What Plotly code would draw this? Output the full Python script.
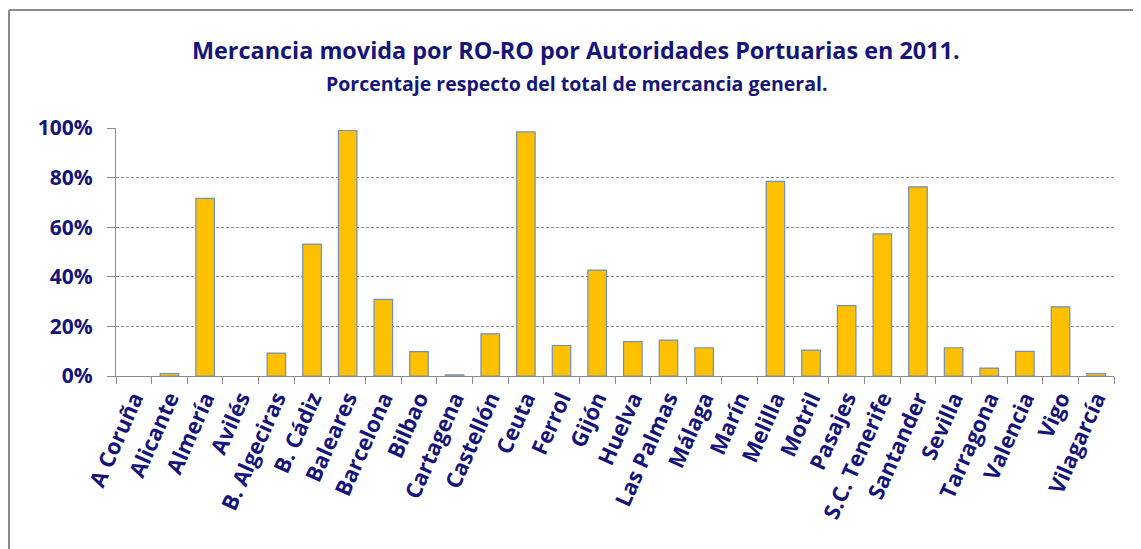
import plotly.graph_objects as go

categories = ["A Coruña", "Alicante", "Almería", "Avilés", "B. Algeciras", "B. Cádiz",
              "Baleares", "Barcelona", "Bilbao", "Cartagena", "Castellón", "Ceuta",
              "Ferrol", "Gijón", "Huelva", "Las Palmas", "Málaga", "Marín", "Melilla",
              "Motril", "Pasajes", "S.C. Tenerife", "Santander", "Sevilla", "Tarragona",
              "Valencia", "Vigo", "Vilagarcía"]
values = [0.0, 1.0, 71.6, 0.0, 9.2, 53.2, 99.0, 30.9, 9.8, 0.5, 17.0, 98.4,
          12.3, 42.7, 13.9, 14.5, 11.4, 0.0, 78.5, 10.4, 28.4, 57.3, 76.3,
          11.4, 3.2, 9.9, 27.9, 1.0]
y_ticks = [0, 20, 40, 60, 80, 100]
y_labels = ["0%", "20%", "40%", "60%", "80%", "100%"]

title = "Mercancia movida por RO-RO por Autoridades Portuarias en 2011."
subtitle = "Porcentaje respecto del total de mercancia general."

navy = "#14147a"
font_family = "'Open Sans', Lato, sans-serif"

# page has an 8px body margin; figure is placed at (8, 8)
W, H = 1133, 541
ml, mr, mt, mb = 108, 27, 120, 173
pw = W - ml - mr
ph = H - mt - mb

def px_to_paper_x(px):
    return (px - ml) / pw

def px_to_paper_y(py):
    return (H - mb - py) / ph

fig = go.Figure()
fig.add_trace(go.Bar(
    x=categories, y=values,
    marker=dict(color="#FFC000",
                line=dict(color="#6F8FBF", width=[0 if v == 0 else 1.2 for v in values])),
    width=0.52,
))

fig.update_layout(
    width=W, height=H,
    margin=dict(l=ml, r=mr, t=mt, b=mb, autoexpand=False),
    paper_bgcolor="white", plot_bgcolor="white",
    showlegend=False,
    font=dict(family=font_family, color=navy),
    annotations=[
        dict(text="<b>" + title + "</b>", x=px_to_paper_x(568), y=px_to_paper_y(42),
             xref="paper", yref="paper", showarrow=False,
             font=dict(size=23.4, color=navy, family=font_family), xanchor="center", yanchor="middle"),
        dict(text="<b>" + subtitle + "</b>", x=px_to_paper_x(568), y=px_to_paper_y(75),
             xref="paper", yref="paper", showarrow=False,
             font=dict(size=19.5, color=navy, family=font_family), xanchor="center", yanchor="middle"),
    ],
    shapes=[
        dict(type="line", xref="paper", yref="paper",
             x0=px_to_paper_x(1), x1=px_to_paper_x(1), y0=px_to_paper_y(2), y1=px_to_paper_y(560),
             line=dict(color="#8c8c8c", width=2)),
        dict(type="line", xref="paper", yref="paper",
             x0=px_to_paper_x(1), x1=px_to_paper_x(1150), y0=px_to_paper_y(2), y1=px_to_paper_y(2),
             line=dict(color="#8c8c8c", width=2)),
    ],
)

fig.update_xaxes(
    type="category",
    tickvals=categories, ticktext=["<b>" + c + "</b>" for c in categories],
    showline=True, linecolor="#8c8c8c", linewidth=1,
    ticks="outside", tickson="boundaries", ticklen=7, tickcolor="#8c8c8c",
    tickangle=-66,
    tickfont=dict(size=22, color=navy, family=font_family),
    showgrid=False,
)
fig.update_yaxes(
    range=[0, 100],
    tickvals=y_ticks, ticktext=["<b>" + t + "</b>" for t in y_labels],
    showline=True, linecolor="#8c8c8c", linewidth=1,
    ticks="outside", ticklen=8, tickcolor="#8c8c8c",
    ticklabelstandoff=10,
    tickfont=dict(size=21, color=navy, family=font_family),
    showgrid=True, gridcolor="#8c8c8c", griddash="3px,2px", gridwidth=1,
    zeroline=False,
)

fig.write_html("out.html")
